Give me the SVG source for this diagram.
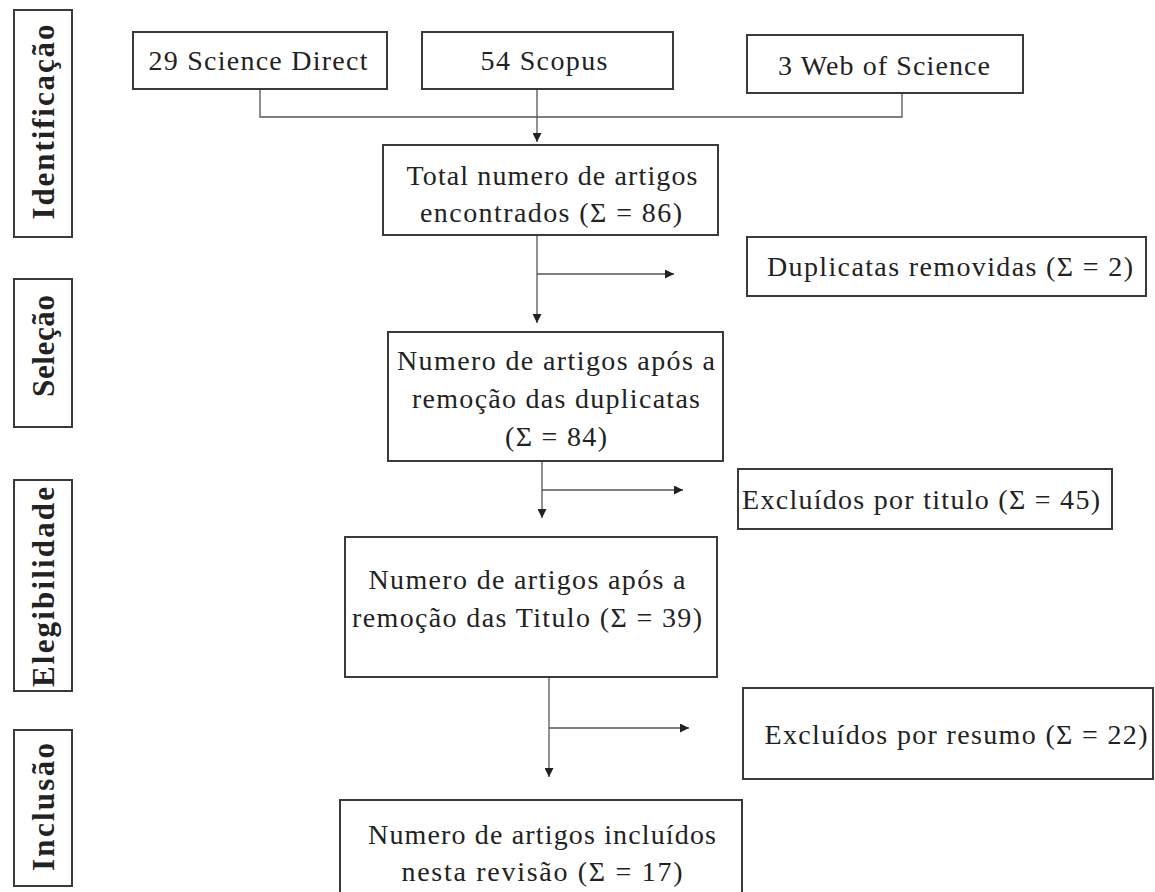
<svg xmlns="http://www.w3.org/2000/svg" width="1155" height="892" viewBox="0 0 1155 892">
<style>
.box{fill:#fff;stroke:#3a3a3a;stroke-width:2}
.t{font-family:'Liberation Serif','Times New Roman',Times,serif;font-size:28px;fill:#222;text-anchor:middle}
.ph{font-family:'Liberation Serif','Times New Roman',Times,serif;font-size:31px;font-weight:bold;fill:#222;text-anchor:middle}
.c{fill:none;stroke:#555;stroke-width:1.3}
</style>
<defs>
<marker id="ah" viewBox="0 0 10 10" refX="10" refY="5" markerUnits="userSpaceOnUse" markerWidth="9" markerHeight="9" orient="auto">
<path d="M0,0 L10,5 L0,10 z" fill="#222"/>
</marker>
</defs>
<rect width="1155" height="892" fill="#fff"/>

<g id="phase-identificacao"><rect class="box" x="14" y="10" width="58" height="227"/><text class="ph" transform="translate(54,122) rotate(-90)" textLength="195">Identificação</text></g>
<g id="phase-selecao"><rect class="box" x="14" y="279" width="58" height="148"/><text class="ph" transform="translate(54,346) rotate(-90)" textLength="102">Seleção</text></g>
<g id="phase-elegibilidade"><rect class="box" x="14" y="480" width="58" height="211"/><text class="ph" transform="translate(54,587) rotate(-90)" textLength="200">Elegibilidade</text></g>
<g id="phase-inclusao"><rect class="box" x="14" y="730" width="58" height="156"/><text class="ph" transform="translate(54,807) rotate(-90)" textLength="128">Inclusão</text></g>

<g id="connectors">
<path class="c" d="M260 89 V117 H902 V93"/>
<path class="c" d="M537 89 V142" marker-end="url(#ah)"/>
<path class="c" d="M537 235 V323" marker-end="url(#ah)"/>
<path class="c" d="M537 274 H674" marker-end="url(#ah)"/>
<path class="c" d="M542 461 V518" marker-end="url(#ah)"/>
<path class="c" d="M542 490 H683" marker-end="url(#ah)"/>
<path class="c" d="M549 677 V777" marker-end="url(#ah)"/>
<path class="c" d="M549 728 H689" marker-end="url(#ah)"/>
</g>

<g id="n-sciencedirect"><rect class="box" x="133" y="32" width="254" height="57"/><text class="t" x="258" y="70" textLength="219">29 Science  Direct</text></g>
<g id="n-scopus"><rect class="box" x="422" y="32" width="251" height="57"/><text class="t" x="544" y="70" textLength="127">54 Scopus</text></g>
<g id="n-wos"><rect class="box" x="747" y="35" width="276" height="58"/><text class="t" x="884" y="75" textLength="212">3 Web of Science</text></g>

<g id="n-total"><rect class="box" x="383" y="145" width="335" height="90"/>
<text class="t" x="552" y="185" textLength="291">Total numero de artigos</text>
<text class="t" x="551" y="222" textLength="262">encontrados  (Σ = 86)</text></g>

<g id="n-dup"><rect class="box" x="747" y="237" width="399" height="59"/><text class="t" x="950" y="276" textLength="366">Duplicatas removidas  (Σ = 2)</text></g>

<g id="n-84"><rect class="box" x="388" y="332" width="335" height="129"/>
<text class="t" x="556" y="370" textLength="318">Numero de artigos após a</text>
<text class="t" x="556" y="408" textLength="288">remoção das duplicatas</text>
<text class="t" x="556" y="446" textLength="102">(Σ = 84)</text></g>

<g id="n-tit"><rect class="box" x="738" y="469" width="374" height="60"/><text class="t" x="921" y="509" textLength="358">Excluídos  por titulo (Σ = 45)</text></g>

<g id="n-39"><rect class="box" x="345" y="537" width="372" height="140"/>
<text class="t" x="527" y="589" textLength="317">Numero de artigos após a</text>
<text class="t" x="527" y="627" textLength="350">remoção das Titulo (Σ = 39)</text></g>

<g id="n-res"><rect class="box" x="743" y="688" width="410" height="91"/><text class="t" x="956" y="744" textLength="383">Excluídos  por resumo (Σ = 22)</text></g>

<g id="n-17"><rect class="box" x="340" y="800" width="402" height="100"/>
<text class="t" x="542" y="844" textLength="348">Numero de artigos incluídos</text>
<text class="t" x="542" y="881" textLength="281">nesta revisão (Σ = 17)</text></g>
</svg>
